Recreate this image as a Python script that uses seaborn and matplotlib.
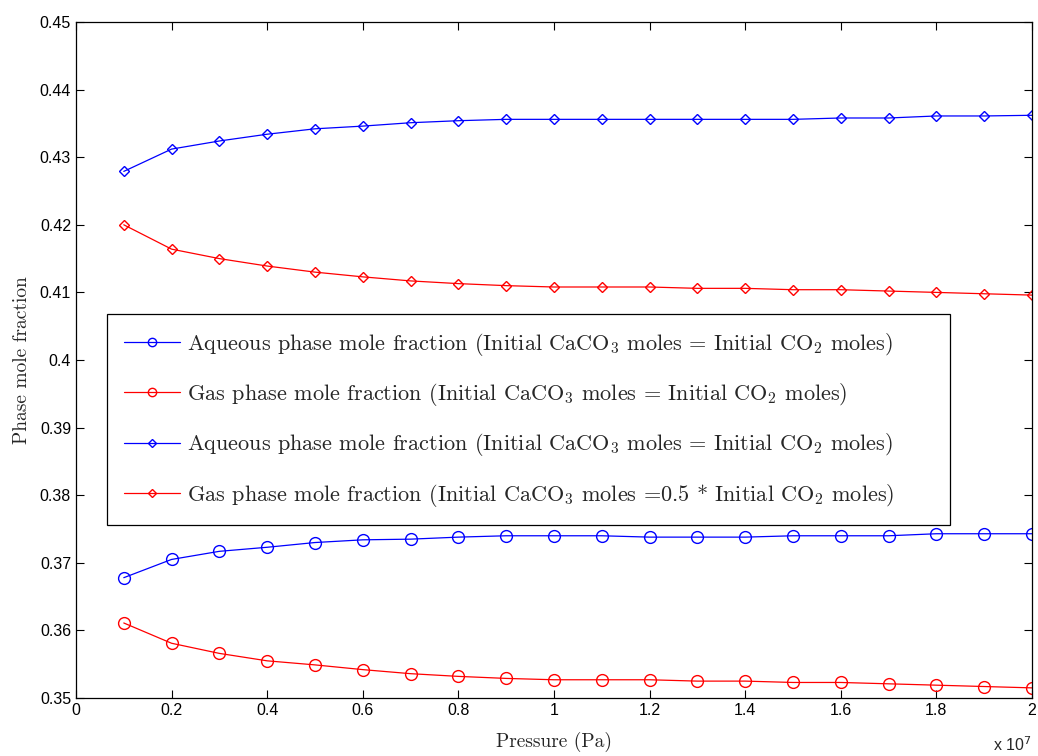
import numpy as np
import pandas as pd
import matplotlib
matplotlib.use("Agg")
import matplotlib.pyplot as plt
from matplotlib.ticker import FuncFormatter, MultipleLocator
import seaborn as sns

# Presión (Pa)
pressure = [1e6, 2e6, 3e6, 4e6, 5e6, 6e6, 7e6, 8e6, 9e6, 1e7,
            1.1e7, 1.2e7, 1.3e7, 1.4e7, 1.5e7, 1.6e7, 1.7e7, 1.8e7, 1.9e7, 2e7]

aq_equal = [0.3678, 0.3705, 0.3717, 0.3723, 0.3730, 0.3734, 0.3735, 0.3738, 0.3740, 0.3740,
            0.3740, 0.3738, 0.3738, 0.3738, 0.3740, 0.3740, 0.3740, 0.3743, 0.3743, 0.3743]
gas_equal = [0.3611, 0.3581, 0.3566, 0.3555, 0.3549, 0.3542, 0.3536, 0.3532, 0.3529, 0.3527,
             0.3527, 0.3527, 0.3525, 0.3525, 0.3523, 0.3523, 0.3521, 0.3519, 0.3517, 0.3515]
aq_half = [0.4279, 0.4312, 0.4324, 0.4334, 0.4342, 0.4346, 0.4351, 0.4354, 0.4356, 0.4356,
           0.4356, 0.4356, 0.4356, 0.4356, 0.4356, 0.4358, 0.4358, 0.4361, 0.4361, 0.4362]
gas_half = [0.4200, 0.4164, 0.4150, 0.4139, 0.4130, 0.4123, 0.4117, 0.4113, 0.4110, 0.4108,
            0.4108, 0.4108, 0.4106, 0.4106, 0.4104, 0.4104, 0.4102, 0.4100, 0.4098, 0.4096]

labels = [
    r"Aqueous phase mole fraction (Initial CaCO$_3$ moles = Initial CO$_2$ moles)",
    r"Gas phase mole fraction (Initial CaCO$_3$ moles = Initial CO$_2$ moles)",
    r"Aqueous phase mole fraction (Initial CaCO$_3$ moles = Initial CO$_2$ moles)",
    r"Gas phase mole fraction (Initial CaCO$_3$ moles =0.5 * Initial CO$_2$ moles)",
]
series = [aq_equal, gas_equal, aq_half, gas_half]
colors = ["#0000ff", "#ff0000", "#0000ff", "#ff0000"]
markers = ["o", "o", "D", "D"]
msizes = [8.5, 8.5, 5.5, 5.5]

sns.set_style("ticks")
plt.rcParams["font.family"] = ["Liberation Sans", "DejaVu Sans"]
plt.rcParams["mathtext.fontset"] = "cm"
serif = ["cmr10", "DejaVu Serif"]

fig = plt.figure(figsize=(10.38, 7.56), dpi=100)
ax = fig.add_axes([0.0732, 0.0767, 0.9210, 0.8942])

for vals, lab, col, mk, ms in zip(series, labels, colors, markers, msizes):
    df = pd.DataFrame({"Pressure": pressure, "Fraction": vals})
    sns.lineplot(data=df, x="Pressure", y="Fraction", ax=ax, color=col, lw=0.9,
                 marker=mk, markersize=ms, markerfacecolor="none",
                 markeredgecolor=col, markeredgewidth=1.0, label=lab)

ax.set_xlim(0, 2e7)
ax.set_ylim(0.35, 0.45)
ax.xaxis.set_major_locator(MultipleLocator(2e6))
ax.yaxis.set_major_locator(MultipleLocator(0.01))
ax.xaxis.set_major_formatter(FuncFormatter(lambda v, p: "%g" % round(v / 1e7, 2)))
ax.yaxis.set_major_formatter(FuncFormatter(lambda v, p: "%g" % round(v, 3)))
ax.tick_params(direction="in", top=True, right=True, length=6, width=0.8,
               labelsize=11.5, colors="black")
for s in ax.spines.values():
    s.set_visible(True)
    s.set_linewidth(0.9)
    s.set_color("black")

ax.set_xlabel("Pressure (Pa)", family=serif, fontsize=14, labelpad=10)
ax.set_ylabel("Phase mole fraction", family=serif, fontsize=14, labelpad=6)
ax.text(1.0, -0.055, r"x 10$^{7}$", transform=ax.transAxes, ha="right", va="top",
        fontsize=11.5, math_fontfamily="dejavusans")

leg = ax.legend(loc="upper left", bbox_to_anchor=(0.0324, 0.263, 0.8818, 0.305),
                mode="expand",
                prop={"family": serif, "size": 16}, frameon=True, fancybox=False,
                framealpha=1, edgecolor="black", handlelength=2.55,
                labelspacing=1.05, borderpad=0.75, handletextpad=0.3,
                borderaxespad=0)
leg.get_frame().set_linewidth(0.9)
for h in leg.legend_handles:
    h.set_markersize(6 if h.get_marker() == "o" else 4.5)

fig.savefig("out.png", dpi=100)
